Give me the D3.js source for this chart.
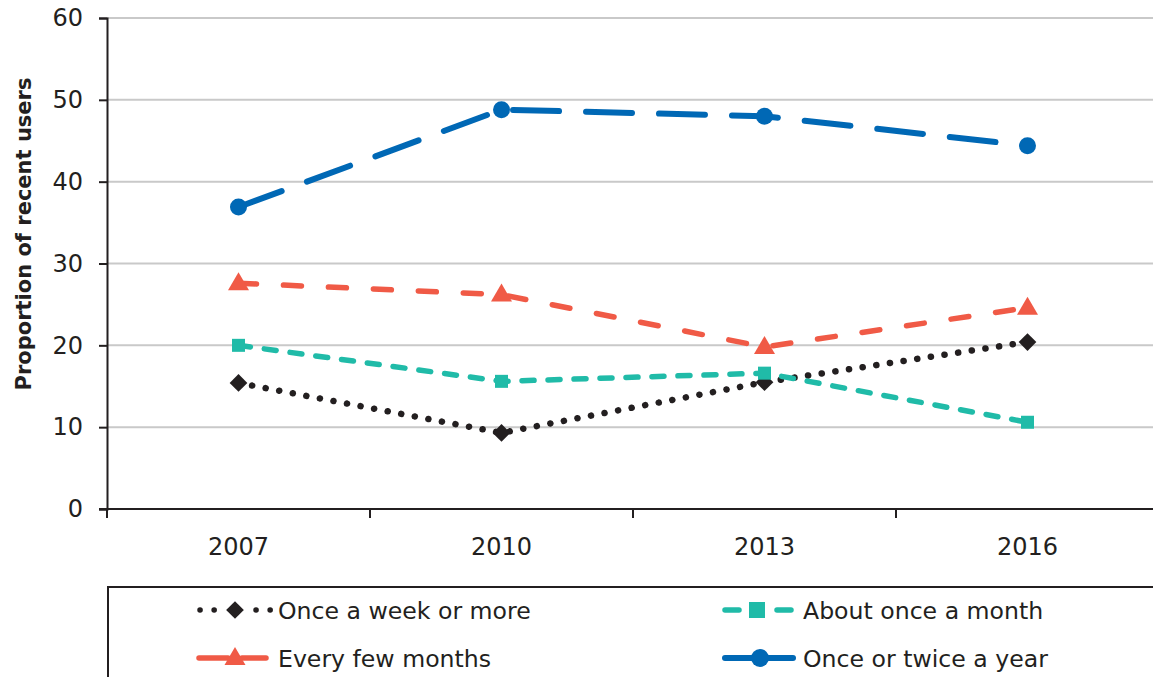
<!DOCTYPE html>
<html>
<head>
<meta charset="utf-8">
<script src="https://cdn.jsdelivr.net/npm/d3@7"></script>
<style>
  html, body { margin: 0; padding: 0; background: #fff; overflow: hidden; }
  svg { display: block; font-family: "DejaVu Sans", sans-serif; }
</style>
</head>
<body>
<svg id="chart" width="1153" height="677"></svg>
<script>
// Survey years and frequency-of-use shares (percent of recent users)
const years = ["2007", "2010", "2013", "2016"];
const weekly = [15.4, 9.3, 15.5, 20.4];
const monthly = [20.0, 15.6, 16.6, 10.6];
const fewMonths = [27.6, 26.2, 19.8, 24.6];
const yearly = [36.9, 48.8, 48.0, 44.4];
const yTicks = [0, 10, 20, 30, 40, 50, 60];
const yTitle = "Proportion of recent users";

const series = [
  { name: "Once a week or more", values: weekly, color: "#231f20", width: 6.5, dash: "0.1,13.7", marker: "diamond" },
  { name: "About once a month", values: monthly, color: "#20bba8", width: 5.5, dash: "12,14", marker: "square" },
  { name: "Every few months", values: fewMonths, color: "#f05a46", width: 5.5, dash: "18,27", marker: "triangle" },
  { name: "Once or twice a year", values: yearly, color: "#0068b5", width: 6, dash: "46,27", marker: "circle" }
];

const ink = "#231f20";
const svg = d3.select("#chart");
const x = d3.scaleBand().domain(years).range([107, 107 + 4 * 263]);
const y = d3.scaleLinear().domain([0, 60]).range([509, 18]);
const cx = d => x(d) + x.bandwidth() / 2;

// Horizontal gridlines
svg.append("g")
  .selectAll("line")
  .data(yTicks.filter(d => d > 0))
  .join("line")
  .attr("x1", 107).attr("x2", 1153)
  .attr("y1", d => y(d)).attr("y2", d => y(d))
  .attr("stroke", "#c9c9c9").attr("stroke-width", 2);

// Y axis
const yAxis = svg.append("g")
  .attr("transform", "translate(107,0)")
  .call(d3.axisLeft(y).tickValues(yTicks).tickSize(8).tickPadding(16));
yAxis.select(".domain").attr("stroke", ink).attr("stroke-width", 2);
yAxis.selectAll(".tick line").attr("stroke", ink).attr("stroke-width", 2);
yAxis.selectAll(".tick text")
  .attr("font-size", 24).attr("fill", ink)
  .attr("font-family", "'DejaVu Sans', sans-serif");

// X axis with ticks at category boundaries
const xAxis = svg.append("g")
  .attr("transform", "translate(0,509)");
xAxis.append("line")
  .attr("x1", 99).attr("x2", 1153)
  .attr("stroke", ink).attr("stroke-width", 2);
xAxis.selectAll("line.tk")
  .data(years)
  .join("line").attr("class", "tk")
  .attr("x1", d => x(d)).attr("x2", d => x(d))
  .attr("y1", 0).attr("y2", 9)
  .attr("stroke", ink).attr("stroke-width", 2);
xAxis.selectAll("text")
  .data(years)
  .join("text")
  .attr("x", d => cx(d))
  .attr("y", 46)
  .attr("text-anchor", "middle")
  .attr("font-size", 24).attr("fill", ink)
  .text(d => d);

// Y axis title
svg.append("text")
  .attr("transform", "translate(31,234) rotate(-90)")
  .attr("text-anchor", "middle")
  .attr("font-size", 21).attr("font-weight", "bold").attr("fill", ink)
  .text(yTitle);

// Marker shapes
function drawMarker(g, type, mx, my, color, big) {
  if (type === "diamond") {
    g.append("path").attr("d", d3.symbol(d3.symbolDiamond2, 200)()).attr("transform", `translate(${mx},${my})`).attr("fill", color);
  } else if (type === "square") {
    const h = big ? 8 : 6.5;
    g.append("rect").attr("x", mx - h).attr("y", my - h).attr("width", 2 * h).attr("height", 2 * h).attr("fill", color);
  } else if (type === "triangle") {
    g.append("path").attr("d", `M${mx},${my - 11}L${mx + 10.5},${my + 7}L${mx - 10.5},${my + 7}Z`).attr("fill", color);
  } else {
    g.append("circle").attr("cx", mx).attr("cy", my).attr("r", big ? 9 : 8.5).attr("fill", color);
  }
}

const line = d3.line()
  .x((d, i) => cx(years[i]))
  .y(d => y(d));

const plot = svg.append("g");
series.forEach(s => {
  const g = plot.append("g");
  g.append("path")
    .attr("d", line(s.values))
    .attr("fill", "none")
    .attr("stroke", s.color)
    .attr("stroke-width", s.width)
    .attr("stroke-dasharray", s.dash)
    .attr("stroke-linecap", "round")
    .attr("stroke-linejoin", "round");
  s.values.forEach((v, i) => drawMarker(g, s.marker, cx(years[i]), y(v), s.color, false));
});

// Legend box
const legend = svg.append("g");
legend.append("rect")
  .attr("x", 108).attr("y", 587).attr("width", 1100).attr("height", 200)
  .attr("fill", "none").attr("stroke", ink).attr("stroke-width", 2);

// Each key: line segments either side of the marker, then the label
const legendItems = [
  { s: series[0], segs: [[200, 215], [256, 271]], dash: "0.1,14", mx: 235, tx: 278, cy: 610, w: 5.5 },
  { s: series[1], segs: [[725, 739], [777, 791]], dash: null, mx: 757, tx: 803, cy: 610 },
  { s: series[2], segs: [[199, 228], [242, 266]], dash: null, mx: 235, tx: 278, cy: 658 },
  { s: series[3], segs: [[725, 793]], dash: null, mx: 760, tx: 803, cy: 658 }
];
legendItems.forEach(it => {
  const g = legend.append("g");
  it.segs.forEach(([a, b]) => {
    g.append("line")
      .attr("x1", a).attr("x2", b).attr("y1", it.cy).attr("y2", it.cy)
      .attr("stroke", it.s.color).attr("stroke-width", it.w || it.s.width)
      .attr("stroke-linecap", "round")
      .attr("stroke-dasharray", it.dash);
  });
  drawMarker(g, it.s.marker, it.mx, it.cy, it.s.color, true);
  g.append("text")
    .attr("x", it.tx).attr("y", it.cy + 9)
    .attr("font-size", 23.6).attr("fill", ink)
    .text(it.s.name);
});
</script>
</body>
</html>
